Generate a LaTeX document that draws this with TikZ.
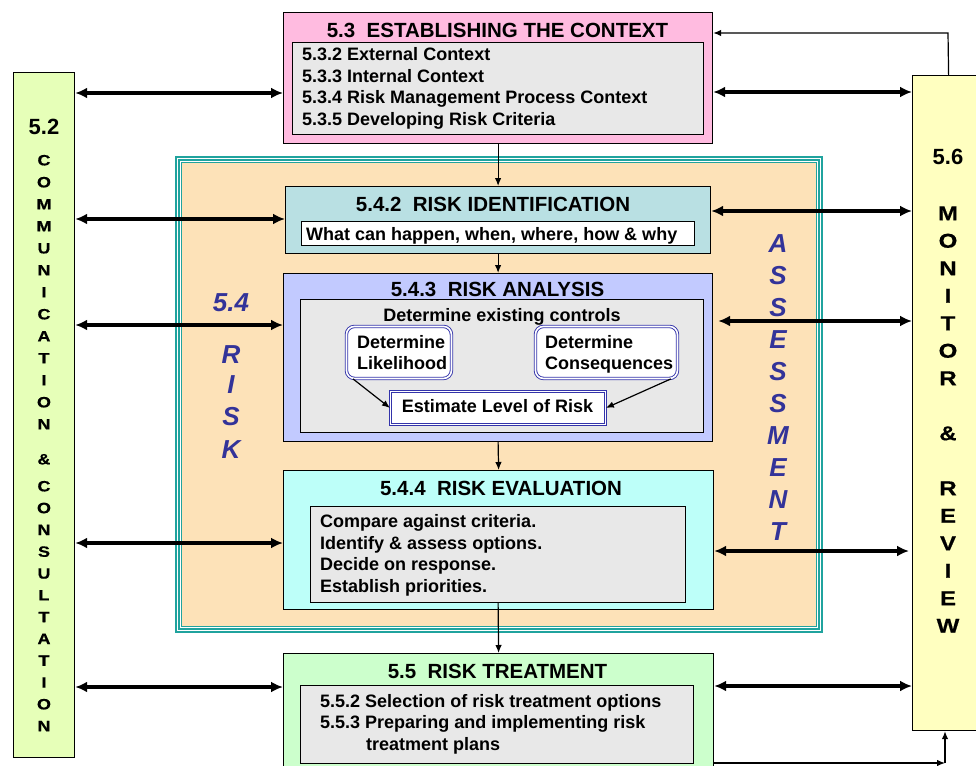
\documentclass[tikz,border=0pt]{standalone}
\usepackage{fontspec}
\setmainfont{Liberation Sans}
\newfontfamily\wideFont[FakeStretch=1.2,FakeBold=0.6]{Liberation Sans}
\usetikzlibrary{arrows.meta}
\definecolor{pinkc}{HTML}{FFBBE0}
\definecolor{grayc}{HTML}{E8E8E8}
\definecolor{idec}{HTML}{B9E0E3}
\definecolor{anac}{HTML}{C2CAFF}
\definecolor{evac}{HTML}{BDFFF9}
\definecolor{trec}{HTML}{CCFFCC}
\definecolor{commc}{HTML}{E6FFB8}
\definecolor{monc}{HTML}{FFFFC0}
\definecolor{peachc}{HTML}{FDE2B8}
\definecolor{tealc}{HTML}{20A39E}
\definecolor{bluet}{HTML}{333399}
\definecolor{dblc}{HTML}{3333AA}
\newcommand{\fTitle}{\fontsize{20.5}{24}\selectfont\bfseries}
\newcommand{\fItem}{\fontsize{18}{21.7}\selectfont\bfseries}
\newcommand{\fLetL}{\wideFont\fontsize{15}{18}\selectfont\bfseries}
\newcommand{\fLetR}{\wideFont\fontsize{20}{24}\selectfont\bfseries}
\newcommand{\fBlue}{\fontsize{26}{30}\selectfont\bfseries\itshape}
\begin{document}
\begin{tikzpicture}[x=1pt,y=-1pt,
  boxst/.style={draw=black, line width=1.2pt, inner sep=0pt, anchor=north west},
  dbl/.style={draw=dblc, line width=0.9pt, double=white, double distance=1.6pt, fill=white, inner sep=0pt, anchor=north west},
  ltxt/.style={inner sep=0pt, anchor=base west, font=\fItem},
  ctxt/.style={inner sep=0pt, anchor=base, font=\fItem},
  ttxt/.style={inner sep=0pt, anchor=base, font=\fTitle},
  letl/.style={inner sep=0pt, anchor=base, font=\fLetL},
  letr/.style={inner sep=0pt, anchor=base, font=\fLetR},
  letb/.style={inner sep=0pt, anchor=base, font=\fBlue, text=bluet},
  biarr/.style={line width=3.4pt, {Latex[length=12pt,width=11pt]}-{Latex[length=12pt,width=11pt]}},
  thinarr/.style={line width=1.2pt, -{Latex[length=8pt,width=6.5pt]}}
]
\useasboundingbox (0,0) rectangle (976,765);

% assessment frame
\node[draw=tealc, line width=2pt, fill=white, minimum width=646pt, minimum height=475pt, inner sep=0pt, anchor=north west] (frA) at (175,156) {};
\node[draw=tealc, line width=2pt, minimum width=640pt, minimum height=469pt, inner sep=0pt, anchor=north west] (frB) at (178,159) {};
\node[draw=tealc, line width=1pt, fill=peachc, minimum width=635pt, minimum height=464pt, inner sep=0pt, anchor=north west] (frC) at (180.5,161.5) {};

% side columns
\node[boxst, fill=commc, minimum width=61pt, minimum height=685pt] (comm) at (13,72) {};
\node[boxst, fill=monc, minimum width=72pt, minimum height=655pt] (mon) at (912,75) {};

% 5.3
\node[boxst, fill=pinkc, minimum width=429pt, minimum height=131pt] (ctx) at (283,12) {};
\node[boxst, fill=grayc, minimum width=411pt, minimum height=92pt] (ctxg) at (292,42) {};
\node[ttxt] (ctxt) at (497.5,37.3) {5.3\ \ ESTABLISHING THE CONTEXT};
\node[ltxt] (c1) at (302,60.5) {5.3.2 External Context};
\node[ltxt] (c2) at (302,82.2) {5.3.3 Internal Context};
\node[ltxt] (c3) at (302,103.9) {5.3.4 Risk Management Process Context};
\node[ltxt] (c4) at (302,125.6) {5.3.5 Developing Risk Criteria};

% 5.4.2
\node[boxst, fill=idec, minimum width=425pt, minimum height=67pt] (ide) at (285,186) {};
\node[boxst, fill=white, minimum width=393pt, minimum height=24pt] (idew) at (301,221) {};
\node[ttxt] (idet) at (493,211.3) {5.4.2\ \ RISK IDENTIFICATION};
\node[ltxt] (idel) at (306,240.5) {What can happen, when, where, how \& why};

% 5.4.3
\node[boxst, fill=anac, minimum width=429pt, minimum height=168pt] (ana) at (283,273) {};
\node[boxst, fill=grayc, minimum width=403pt, minimum height=133pt] (anag) at (300,299) {};
\node[ttxt] (anat) at (497.5,296.3) {5.4.3\ \ RISK ANALYSIS};
\node[ctxt] (anac) at (502,321.5) {Determine existing controls};
\node[dbl, rounded corners=8pt, minimum width=105pt, minimum height=52pt] (lik) at (346,326) {};
\node[ltxt] (lik1) at (357,348.5) {Determine};
\node[ltxt] (lik2) at (357,369.5) {Likelihood};
\node[dbl, rounded corners=8pt, minimum width=142pt, minimum height=52pt] (con) at (535,326) {};
\node[ltxt] (con1) at (545,348.5) {Determine};
\node[ltxt] (con2) at (545,369.5) {Consequences};
\node[dbl, minimum width=215pt, minimum height=33pt] (est) at (390,391) {};
\node[ctxt] (estt) at (497.5,412.5) {Estimate Level of Risk};
\draw[thinarr] ([xshift=7pt]lik.south west) -- (est.west);
\draw[thinarr] ([xshift=-7pt]con.south east) -- (est.east);

% 5.4.4
\node[boxst, fill=evac, minimum width=430pt, minimum height=139pt] (eva) at (283,470) {};
\node[boxst, fill=grayc, minimum width=375pt, minimum height=96pt] (evag) at (310,506) {};
\node[ttxt] (evat) at (501,495.3) {5.4.4\ \ RISK EVALUATION};
\node[ltxt] (e1) at (320,527.5) {Compare against criteria.};
\node[ltxt] (e2) at (320,549.2) {Identify \& assess options.};
\node[ltxt] (e3) at (320,570.9) {Decide on response.};
\node[ltxt] (e4) at (320,592.6) {Establish priorities.};

% 5.5
\node[boxst, fill=trec, minimum width=430pt, minimum height=125pt] (tre) at (283,653) {};
\node[boxst, fill=grayc, minimum width=393pt, minimum height=78pt] (treg) at (300,685) {};
\node[ttxt] (tret) at (497.5,678.3) {5.5\ \ RISK TREATMENT};
\node[ltxt] (t1) at (320,707.5) {5.5.2 Selection of risk treatment options};
\node[ltxt] (t2) at (320,728.8) {5.5.3 Preparing and implementing risk};
\node[ltxt] (t3) at (366,750) {treatment plans};

% column texts
\node[inner sep=0pt, anchor=base, font=\fontsize{22}{24}\selectfont\bfseries] (l52) at (44,135) {5.2};
\foreach \ch [count=\i from 0] in {C,O,M,M,U,N,I,C,A,T,I,O,N}
  \node[letl] (la\i) at (44,{165.4+22*\i}) {\ch};
\node[letl] (lamp) at (44,464.4) {\&};
\foreach \ch [count=\i from 0] in {C,O,N,S,U,L,T,A,T,I,O,N}
  \node[letl] (lb\i) at (44,{491.4+21.8*\i}) {\ch};

\node[inner sep=0pt, anchor=base, font=\fontsize{22}{24}\selectfont\bfseries] (r56) at (948,164) {5.6};
\foreach \ch [count=\i from 0] in {M,O,N,I,T,O,R}
  \node[letr] (ra\i) at (948,{220.2+27.5*\i}) {\ch};
\node[letr] (ramp) at (948,440.2) {\&};
\foreach \ch [count=\i from 0] in {R,E,V,I,E,W}
  \node[letr] (rb\i) at (948,{495.2+27.5*\i}) {\ch};

% 5.4 RISK / ASSESSMENT
\node[letb] (b54) at (231,311.3) {5.4};
\foreach \ch/\yy [count=\i] in {R/354,I/384,S/416,K/449}
  \node[letb] (br\i) at (231,{\yy+9.3}) {\ch};
\foreach \ch [count=\i from 0] in {A,S,S,E,S,S,M,E,N,T}
  \node[letb] (ba\i) at (778,{252.3+32*\i}) {\ch};

% vertical flow
\draw[thinarr] (ctx.south) -- (ide.north);
\draw[thinarr] (ide.south) -- (ana.north);
\draw[thinarr] (ana.south) -- (eva.north);
\draw[thinarr] (evag.south) -- (tre.north);

% communication arrows
\draw[biarr] (comm.east |- 0,93) -- (ctx.west |- 0,93);
\draw[biarr] (comm.east |- 0,219) -- (ide.west |- 0,219);
\draw[biarr] (comm.east |- 0,325) -- (ana.west |- 0,325);
\draw[biarr] (comm.east |- 0,543) -- (eva.west |- 0,543);
\draw[biarr] (comm.east |- 0,687) -- (tre.west |- 0,687);

% monitor arrows
\draw[biarr] (ctx.east |- 0,92) -- (mon.west |- 0,92);
\draw[biarr] (ide.east |- 0,211) -- (mon.west |- 0,211);
\draw[biarr] ([xshift=5pt]ana.east |- 0,321) -- (mon.west |- 0,321);
\draw[biarr] (eva.east |- 0,551) -- ([xshift=-3pt]mon.west |- 0,551);
\draw[biarr] (tre.east |- 0,686) -- (mon.west |- 0,686);

% feedback loops
\coordinate (fbt) at (948,33);
\draw[thinarr] (mon.north) -- (fbt) -- (ctx.east |- fbt);
\coordinate (fbc) at (945,763);
\draw[thinarr] (tre.east |- fbc) -- (fbc);
\draw[thinarr] (fbc) -- (mon.south -| fbc);
\end{tikzpicture}
\end{document}
